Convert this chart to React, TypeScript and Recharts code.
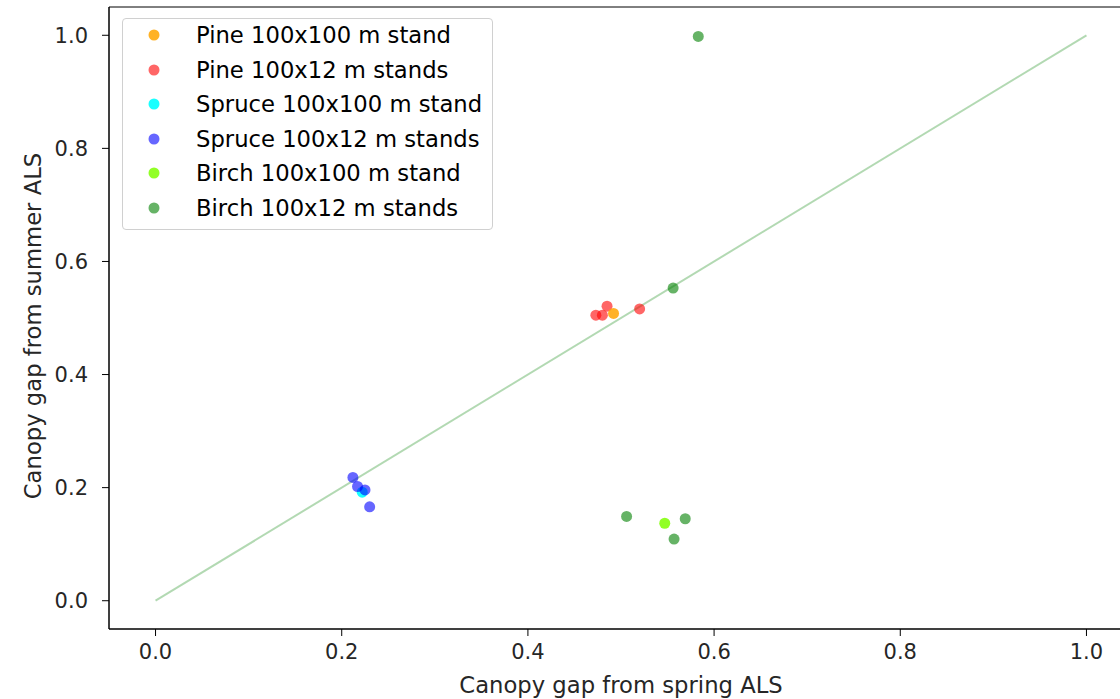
import { ScatterChart, Scatter, XAxis, YAxis, ReferenceLine, ReferenceArea } from "recharts";

// canopy gap: x = spring ALS, y = summer ALS
const pine100 = [{ x: 0.492, y: 0.508 }];
const pine12 = [
  { x: 0.473, y: 0.505 },
  { x: 0.48, y: 0.505 },
  { x: 0.485, y: 0.521 },
  { x: 0.52, y: 0.516 },
];
const spruce100 = [{ x: 0.222, y: 0.192 }];
const spruce12 = [
  { x: 0.212, y: 0.218 },
  { x: 0.217, y: 0.202 },
  { x: 0.225, y: 0.196 },
  { x: 0.23, y: 0.166 },
];
const birch100 = [{ x: 0.547, y: 0.137 }];
const birch12 = [
  { x: 0.583, y: 0.998 },
  { x: 0.556, y: 0.553 },
  { x: 0.506, y: 0.149 },
  { x: 0.569, y: 0.145 },
  { x: 0.557, y: 0.109 },
];

const oneToOne = [
  { x: 0, y: 0 },
  { x: 1, y: 1 },
];

const ticks = [0, 0.2, 0.4, 0.6, 0.8, 1.0];

const series = [
  { name: "Pine 100x100 m stand", data: pine100, color: "#ffa500", opacity: 0.85 },
  { name: "Pine 100x12 m stands", data: pine12, color: "#ff0000", opacity: 0.6 },
  { name: "Spruce 100x100 m stand", data: spruce100, color: "#00ffff", opacity: 0.9 },
  { name: "Spruce 100x12 m stands", data: spruce12, color: "#0000ff", opacity: 0.6 },
  { name: "Birch 100x100 m stand", data: birch100, color: "#7fff00", opacity: 0.85 },
  { name: "Birch 100x12 m stands", data: birch12, color: "#008000", opacity: 0.6 },
];

// draw order differs a bit from legend order (orange over red, cyan under blue)
const drawOrder = [1, 0, 2, 3, 4, 5];

const font = "DejaVu Sans, sans-serif";
const textColor = "#262626";

const dot = (color: string, opacity: number) => (props: any) =>
  <circle cx={props.cx} cy={props.cy} r={5.5} fill={color} fillOpacity={opacity} />;

function LegendBox() {
  return (
    <div
      style={{
        position: "absolute",
        left: 122,
        top: 18,
        width: 369,
        height: 210,
        border: "1px solid #d0d0d0",
        borderRadius: 4,
        background: "rgba(255,255,255,0.8)",
        fontFamily: font,
        fontSize: 22.7,
        color: "#000",
      }}
    >
      {series.map((s, i) => (
        <div
          key={s.name}
          style={{
            position: "absolute",
            left: 0,
            top: 16 + i * 34.6 - 14,
            height: 28,
            display: "flex",
            alignItems: "center",
          }}
        >
          <svg width={73} height={28}>
            <circle cx={31} cy={14} r={5.5} fill={s.color} fillOpacity={s.opacity} />
          </svg>
          <span style={{ whiteSpace: "nowrap", lineHeight: "28px" }}>{s.name}</span>
        </div>
      ))}
    </div>
  );
}

const YLabel = (props: any) => {
  const vb = props.viewBox || {};
  const cx = (vb.x ?? 0) + 33;
  const cy = (vb.y ?? 0) + (vb.height ?? 0) / 2 + 8;
  return (
    <text
      x={cx}
      y={cy}
      transform={`rotate(-90, ${cx}, ${cy})`}
      textAnchor="middle"
      dominantBaseline="central"
      fill={textColor}
      fontSize={22.7}
      fontFamily={font}
    >
      Canopy gap from summer ALS
    </text>
  );
};

export default function App() {
  return (
    <div style={{ position: "absolute", left: 0, top: 0, width: 1120, height: 699, overflow: "hidden" }}>
      <ScatterChart width={1140} height={699} margin={{ top: 7, right: 7, left: 0, bottom: 0 }}>
        <XAxis
          type="number"
          dataKey="x"
          domain={[-0.05, 1.05]}
          ticks={ticks}
          tickFormatter={(v: number) => v.toFixed(1)}
          allowDataOverflow
          height={70}
          stroke="#000"
          tickSize={7}
          tickMargin={8}
          tick={{ fill: textColor, fontSize: 21, fontFamily: font }}
          label={{
            value: "Canopy gap from spring ALS",
            position: "insideBottom",
            offset: 6,
            style: { fill: textColor, fontSize: 22.7, fontFamily: font },
          }}
        />
        <YAxis
          type="number"
          dataKey="y"
          domain={[-0.05, 1.05]}
          ticks={ticks}
          tickFormatter={(v: number) => v.toFixed(1)}
          allowDataOverflow
          width={109}
          stroke="#000"
          tickSize={7}
          tickMargin={14}
          tick={{ fill: textColor, fontSize: 21, fontFamily: font }}
          label={<YLabel />}
        />
        <ReferenceArea
          x1={-0.05}
          x2={1.05}
          y1={-0.05}
          y2={1.05}
          fill="none"
          stroke="#000"
          strokeWidth={1}
          fillOpacity={0}
        />
        <ReferenceLine segment={oneToOne} stroke="#008000" strokeOpacity={0.3} strokeWidth={2} />
        {drawOrder.map((i) => {
          const s = series[i];
          return (
            <Scatter
              key={s.name}
              name={s.name}
              data={s.data}
              fill={s.color}
              shape={dot(s.color, s.opacity)}
              isAnimationActive={false}
            />
          );
        })}
      </ScatterChart>
      <LegendBox />
    </div>
  );
}
